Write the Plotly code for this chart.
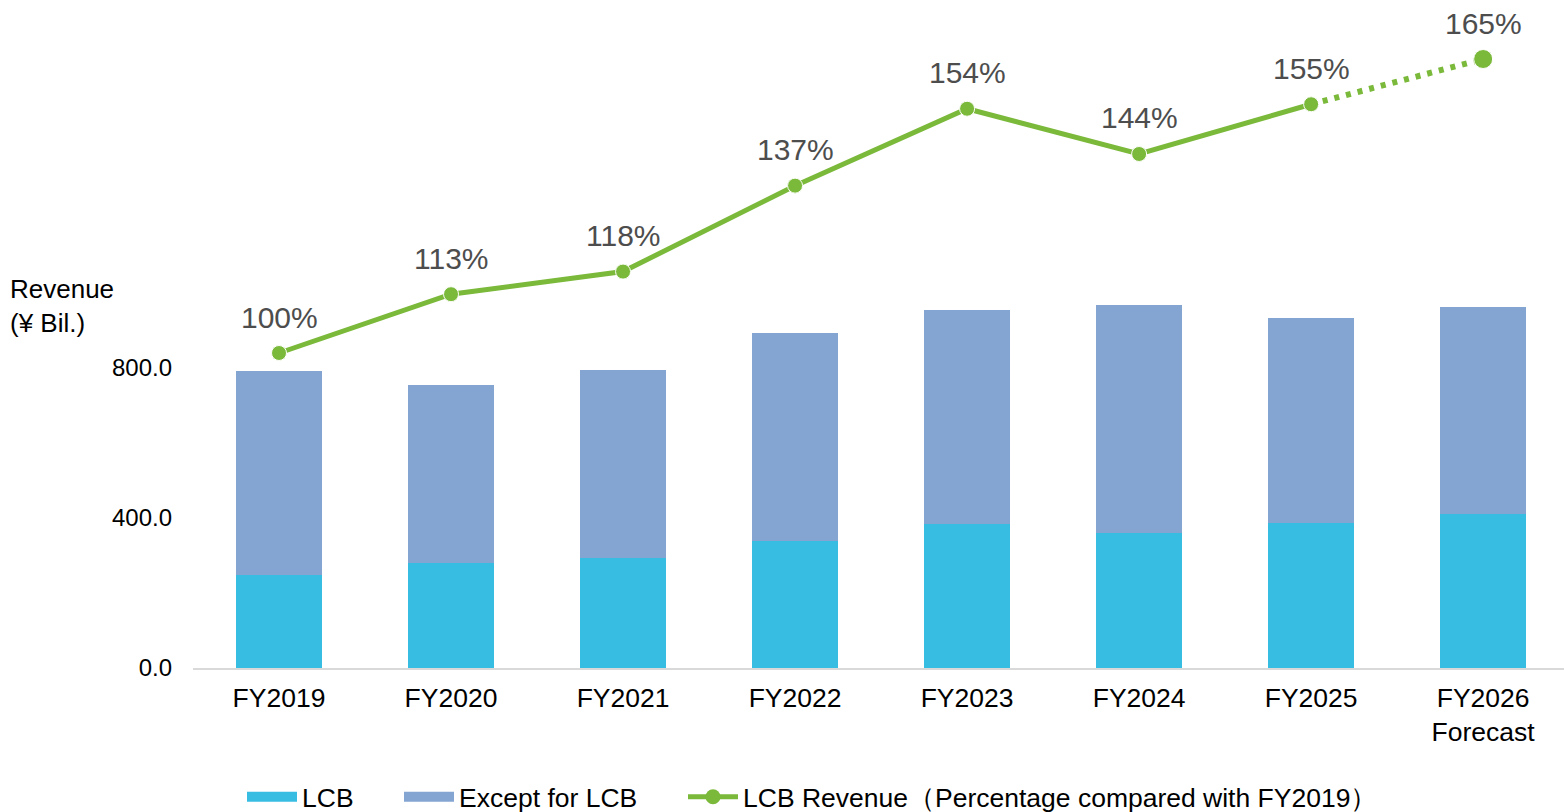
import plotly.graph_objects as go

categories = ["FY2019", "FY2020", "FY2021", "FY2022", "FY2023", "FY2024", "FY2025", "FY2026<br>Forecast"]
lcb = [248, 280, 293, 339, 384, 360, 387, 411]
total = [792, 755, 795, 893, 955, 968, 933, 963]
except_lcb = [t - l for t, l in zip(total, lcb)]
pct = [100, 113, 118, 137, 154, 144, 155, 165]
pct_labels = [f"{p}%" for p in pct]
marker_sizes = [15, 15, 15, 15, 15, 15, 15, 19]
ytick_vals = [0, 400, 800]
ytick_text = ["0.0", "400.0", "800.0"]

FONT = "Arial, Liberation Sans, sans-serif"
GREEN = "#7AB93A"
CYAN = "#38BDE2"
BLUE = "#84A4D1"
LEGEND_NAME = "LCB Revenue（Percentage compared with FY2019）"

fig = go.Figure()
fig.add_trace(go.Bar(x=categories, y=lcb, name="LCB", legendgroup="lcb", showlegend=False,
                     marker=dict(color=CYAN, line=dict(width=0))))
fig.add_trace(go.Bar(x=categories, y=except_lcb, name="Except for LCB", legendgroup="exc", showlegend=False,
                     marker=dict(color=BLUE, line=dict(width=0))))

# legend keys (wide swatches) for the bar series
fig.add_trace(go.Scatter(x=[None], y=[None], mode="lines", name="LCB", legendgroup="lcb",
                         line=dict(color=CYAN, width=14), legendwidth=92))
fig.add_trace(go.Scatter(x=[None], y=[None], mode="lines", name="Except for LCB", legendgroup="exc",
                         line=dict(color=BLUE, width=14), legendwidth=219))

# solid actual line
fig.add_trace(go.Scatter(
    x=categories[:7], y=pct[:7], yaxis="y2", mode="lines+markers", name=LEGEND_NAME, legendgroup="pct",
    line=dict(color=GREEN, width=5), marker=dict(color=GREEN, size=15),
))
# dotted forecast segment
fig.add_trace(go.Scatter(
    x=categories[6:], y=pct[6:], yaxis="y2", mode="lines", showlegend=False, legendgroup="pct",
    line=dict(color=GREEN, width=6, dash="5px,7px"),
))
# all markers
fig.add_trace(go.Scatter(
    x=categories, y=pct, yaxis="y2", mode="markers", showlegend=False, legendgroup="pct",
    marker=dict(color=GREEN, size=marker_sizes, opacity=1),
))

for c, p, t in zip(categories, pct, pct_labels):
    fig.add_annotation(x=c, y=p, yref="y2", text=t, showarrow=False, yshift=36,
                       font=dict(family=FONT, size=30, color="#4D4D4D"))

fig.add_annotation(xref="paper", yref="paper", x=(8 - 193) / 1371, y=(668 - 272) / 668,
                   xanchor="left", yanchor="top", align="left", showarrow=False,
                   text="Revenue<br>(¥ Bil.)", font=dict(family=FONT, size=26, color="#000000"))

fig.update_layout(
    width=1564, height=812,
    margin=dict(l=193, r=0, t=0, b=144, autoexpand=False),
    paper_bgcolor="white", plot_bgcolor="white",
    barmode="stack", bargap=0.5,
    font=dict(family=FONT, size=24, color="#000000"),
    xaxis=dict(range=[-0.5, 7.47], showgrid=False, showline=True, linecolor="#D9D9D9", linewidth=2,
               ticks="", tickfont=dict(size=26.5, color="#000000"), ticklabelstandoff=5),
    yaxis=dict(range=[0, 668 / 0.375], tickvals=ytick_vals, ticktext=ytick_text, showgrid=False,
               zeroline=False, showline=False, tickfont=dict(size=24, color="#000000"), ticklabelstandoff=20),
    yaxis2=dict(overlaying="y", side="right", range=[100 - 315 / 4.523, 100 + 353 / 4.523], visible=False),
    legend=dict(orientation="h", x=(242 - 193) / 1371, xanchor="left", y=(668 - 797) / 668, yanchor="middle",
                font=dict(size=26.5, color="#000000"), itemwidth=50, traceorder="normal"),
    showlegend=True,
)

fig.write_html("out.html", config={"displayModeBar": False},
               post_script="document.body.style.margin='0px';document.body.style.overflow='hidden';")
